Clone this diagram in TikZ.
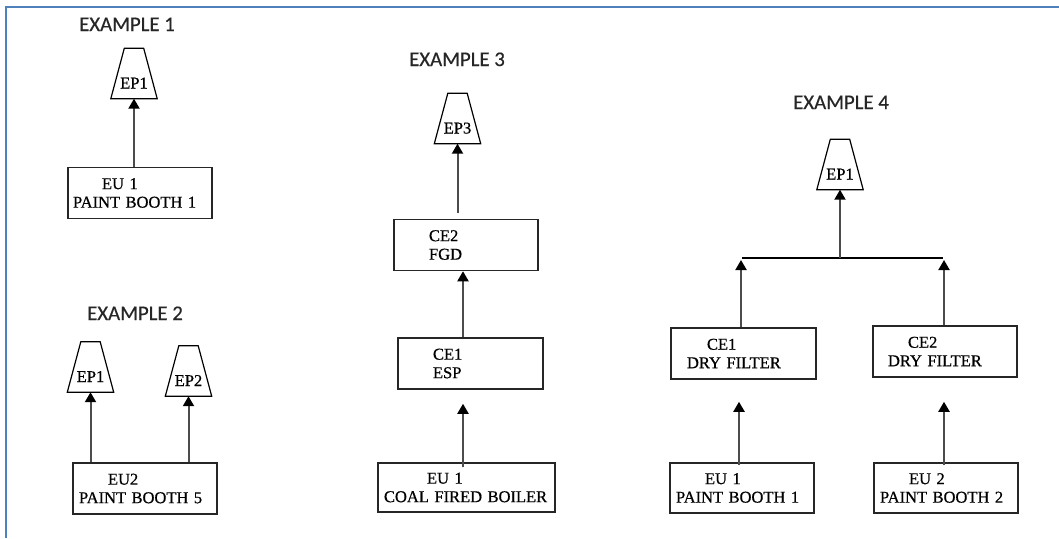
\documentclass[tikz,border=0pt]{standalone}
\usepackage{fontspec}
\setmainfont{Liberation Serif}[FakeBold=0.7]
\newfontfamily\boxfont{Liberation Serif}[FakeBold=0.7]
\newfontfamily\titlefont{Carlito}[FakeBold=0.4]
\usetikzlibrary{arrows.meta,calc}
\definecolor{frameblue}{RGB}{79,129,189}
\begin{document}
\begin{tikzpicture}[x=1pt,y=-1pt,
    unit/.style={draw=black!85,line width=1.5pt,align=left,inner sep=0pt,
      minimum height=51pt,font=\boxfont\fontsize{16.5}{18.5}\selectfont},
    stack/.style={minimum width=46pt,minimum height=50pt,inner sep=0pt,
      text height=30pt,text depth=0pt,font=\boxfont\fontsize{16.5}{18}\selectfont},
    title/.style={anchor=base west,inner sep=0pt,text=black!85,font=\titlefont\fontsize{20.8}{24}\selectfont},
    flow/.style={draw=black!70,line width=2pt,-{Triangle[width=11pt,length=10pt,color=black]}},
    wire/.style={draw=black,line width=1.5pt}]
  \useasboundingbox (0,0) rectangle (1059,538);
  \draw[frameblue,line width=2pt] (6,538) -- (6,7) -- (1059,7);

  \node[title] (ex1) at (79,31) {EXAMPLE 1};
  \node[stack] (ep1a) at (134,73.5) {EP1};
  \node[unit,text width=144pt] (eu1a) at (140,193) {\hspace*{34pt}EU 1\\\hspace*{5pt}PAINT BOOTH 1};
  \draw[flow] (eu1a.north -| ep1a.south) -- (ep1a.south);

  \node[title] (ex2) at (87,320) {EXAMPLE 2};
  \node[stack] (ep1b) at (90.5,367) {EP1};
  \node[stack] (ep2b) at (188.5,371) {EP2};
  \node[unit,text width=144pt] (eu2b) at (145,488.5) {\hspace*{35pt}EU2\\\hspace*{6pt}PAINT BOOTH 5};
  \draw[flow] (eu2b.north -| ep1b.south) -- (ep1b.south);
  \draw[flow] (eu2b.north -| ep2b.south) -- (ep2b.south);

  \node[title] (ex3) at (409,66) {EXAMPLE 3};
  \node[stack] (ep3c) at (457.5,118.5) {EP3};
  \node[unit,text width=144pt] (ce2c) at (466,245) {\hspace*{35pt}CE2\\\hspace*{35pt}FGD};
  \node[unit,text width=145pt] (ce1c) at (470.5,363.5) {\hspace*{35pt}CE1\\\hspace*{35pt}ESP};
  \node[unit,text width=177pt,minimum height=49pt] (eu1c) at (466.5,487.5) {\hspace*{49pt}EU 1\\\hspace*{6pt}COAL FIRED BOILER};
  \draw[flow] ($(ep3c.south |- ce2c.north)+(0,-6)$) -- (ep3c.south);
  \draw[flow] ($(ce1c.north)+(-7.5,0)$) -- ($(ce2c.south)+(-3,0)$);
  \draw[flow] ($(eu1c.north)+(-3.5,5)$) -- ($(ce1c.south)+(-7.5,14)$);

  \node[title] (ex4) at (793,109) {EXAMPLE 4};
  \node[stack] (ep1d) at (840,164.5) {EP1};
  \node[unit,text width=145pt] (ce1d) at (743.5,353.5) {\hspace*{36pt}CE1\\\hspace*{16pt}DRY FILTER};
  \node[unit,text width=144pt] (ce2d) at (945,351.5) {\hspace*{35pt}CE2\\\hspace*{15pt}DRY FILTER};
  \node[unit,text width=144pt,minimum height=50pt] (eu1d) at (742,488) {\hspace*{35pt}EU 1\\\hspace*{6pt}PAINT BOOTH 1};
  \node[unit,text width=144pt,minimum height=50pt] (eu2d) at (946,488) {\hspace*{35pt}EU 2\\\hspace*{6pt}PAINT BOOTH 2};
  \coordinate (bus) at (841,258);
  \draw[wire] ($(ce1d.north |- bus)+(-1.5,0)$) -- ($(ce2d.north |- bus)+(-2,0)$);
  \draw[flow] (ep1d.south |- bus) -- (ep1d.south);
  \draw[flow] ($(ce1d.north)+(-2.5,0)$) -- ($(ce1d.north |- bus)+(-2.5,2)$);
  \draw[flow] ($(ce2d.north)+(-1,0)$) -- ($(ce2d.north |- bus)+(-1,2)$);
  \draw[flow] ($(eu1d.north)+(-3,3)$) -- ($(ce1d.south)+(-4.5,22)$);
  \draw[flow] ($(eu2d.north)+(-2,3)$) -- ($(ce2d.south)+(-1,24)$);

  \foreach \n in {ep1a,ep1b,ep2b,ep3c,ep1d}
    \draw[line width=1.2pt] (\n.south west) -- (\n.south east)
      -- ([xshift=-13.5pt]\n.north east) -- ([xshift=13.5pt]\n.north west) -- cycle;
\end{tikzpicture}
\end{document}
